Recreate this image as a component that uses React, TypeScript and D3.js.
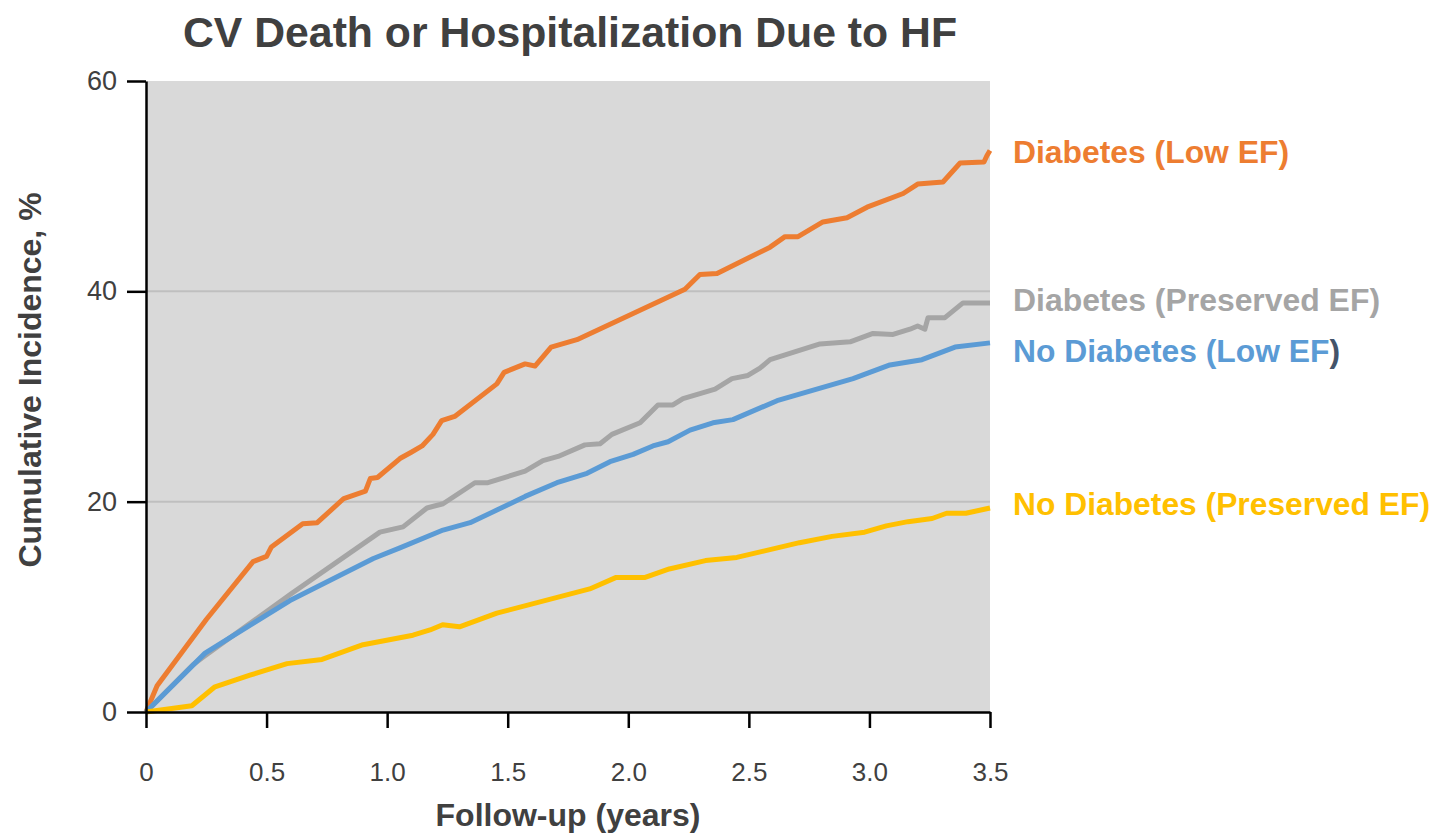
import { useEffect, useRef } from "react";
import * as d3 from "d3";

// follow-up time (years) and cumulative incidence (%)
const diabetesLowEF: [number, number][] = [
  [0, 0], [0.046, 2.5], [0.25, 8.8], [0.444, 14.3], [0.5, 14.8], [0.52, 15.7],
  [0.65, 17.9], [0.71, 18.0], [0.82, 20.3], [0.91, 21.0], [0.93, 22.2], [0.96, 22.3],
  [1.053, 24.1], [1.1, 24.7], [1.145, 25.3], [1.19, 26.4], [1.226, 27.7], [1.28, 28.1],
  [1.455, 31.2], [1.485, 32.3], [1.572, 33.1], [1.613, 32.9], [1.68, 34.7], [1.787, 35.4],
  [2.235, 40.2], [2.297, 41.6], [2.368, 41.7], [2.588, 44.2], [2.65, 45.2], [2.704, 45.2],
  [2.807, 46.6], [2.907, 47.0], [2.99, 48.0], [3.14, 49.3], [3.2, 50.2], [3.305, 50.4],
  [3.376, 52.2], [3.475, 52.3], [3.487, 52.9], [3.5, 53.4]
];

const diabetesPreservedEF: [number, number][] = [
  [0, 0], [0.195, 4.5], [0.236, 5.2], [0.605, 11.3], [0.97, 17.1], [1.066, 17.6],
  [1.165, 19.4], [1.232, 19.8], [1.364, 21.8], [1.418, 21.8], [1.572, 22.9], [1.646, 23.9],
  [1.709, 24.3], [1.82, 25.4], [1.883, 25.5], [1.932, 26.4], [2.049, 27.5], [2.123, 29.2],
  [2.185, 29.2], [2.227, 29.8], [2.36, 30.7], [2.43, 31.7], [2.496, 32.0], [2.546, 32.7],
  [2.588, 33.5], [2.795, 35.0], [2.92, 35.2], [3.015, 36.0], [3.098, 35.9], [3.168, 36.4],
  [3.2, 36.7], [3.23, 36.4], [3.243, 37.5], [3.313, 37.5], [3.388, 38.9], [3.5, 38.9]
];

const noDiabetesLowEF: [number, number][] = [
  [0, 0], [0.245, 5.6], [0.597, 10.6], [0.943, 14.6], [1.053, 15.6], [1.232, 17.3],
  [1.344, 18.0], [1.455, 19.2], [1.572, 20.5], [1.704, 21.8], [1.829, 22.7], [1.924, 23.8],
  [2.02, 24.5], [2.102, 25.3], [2.165, 25.7], [2.256, 26.8], [2.351, 27.5], [2.434, 27.8],
  [2.617, 29.6], [2.932, 31.7], [3.085, 33.0], [3.218, 33.5], [3.355, 34.7], [3.5, 35.1]
];

const noDiabetesPreservedEF: [number, number][] = [
  [0, 0], [0.19, 0.6], [0.286, 2.4], [0.431, 3.5], [0.585, 4.6], [0.73, 5.0],
  [0.9, 6.4], [1.107, 7.3], [1.178, 7.8], [1.23, 8.3], [1.3, 8.1], [1.455, 9.4],
  [1.84, 11.7], [1.95, 12.8], [2.07, 12.8], [2.17, 13.6], [2.32, 14.4], [2.45, 14.7],
  [2.71, 16.1], [2.845, 16.7], [2.98, 17.1], [3.07, 17.7], [3.16, 18.1], [3.26, 18.4],
  [3.32, 18.9], [3.4, 18.9], [3.5, 19.4]
];

const xTicks = [0, 0.5, 1.0, 1.5, 2.0, 2.5, 3.0, 3.5];
const xTickLabels = ["0", "0.5", "1.0", "1.5", "2.0", "2.5", "3.0", "3.5"];
const yTicks = [0, 20, 40, 60];

const seriesNames = [
  "Diabetes (Low EF)",
  "Diabetes (Preserved EF)",
  "No Diabetes (Low EF)",
  "No Diabetes (Preserved EF)"
];
const seriesData = [diabetesLowEF, diabetesPreservedEF, noDiabetesLowEF, noDiabetesPreservedEF];
const seriesColors = ["#ED7D31", "#A5A5A5", "#5B9BD5", "#FFC000"];

const FONT = "'Liberation Sans', Arial, Helvetica, sans-serif";
const TEXT = "#404040";

function Chart() {
  const ref = useRef<SVGSVGElement>(null);

  useEffect(() => {
    const margin = { top: 81, left: 146, right: 445, bottom: 122 };
    const width = 1435;
    const height = 834;

    const svg = d3.select(ref.current);
    svg.selectAll("*").remove();

    const xScale = d3.scaleLinear()
      .domain([0, 3.5])
      .range([margin.left, width - margin.right]);
    const yScale = d3.scaleLinear()
      .domain([0, 60])
      .range([height - margin.bottom, margin.top]);

    // plot background
    svg.append("rect")
      .attr("x", xScale(0))
      .attr("y", yScale(60))
      .attr("width", xScale(3.5) - xScale(0))
      .attr("height", yScale(0) - yScale(60))
      .attr("fill", "#D9D9D9");

    // gridlines
    svg.selectAll(".grid")
      .data([20, 40])
      .join("line")
      .attr("class", "grid")
      .attr("x1", xScale(0))
      .attr("x2", xScale(3.5))
      .attr("y1", d => yScale(d))
      .attr("y2", d => yScale(d))
      .attr("stroke", "#BFBFBF")
      .attr("stroke-width", 2);

    const line = d3.line<[number, number]>()
      .x(d => xScale(d[0]))
      .y(d => yScale(d[1]));

    svg.selectAll(".series")
      .data(seriesData)
      .join("path")
      .attr("class", "series")
      .attr("d", d => line(d))
      .attr("fill", "none")
      .attr("stroke", (d, i) => seriesColors[i])
      .attr("stroke-width", 5)
      .attr("stroke-linejoin", "round");

    // x axis
    const xAxis = svg.append("g")
      .attr("transform", `translate(0, ${yScale(0)})`)
      .call(d3.axisBottom(xScale)
        .tickValues(xTicks)
        .tickSize(16)
        .tickSizeOuter(0)
        .tickPadding(35)
        .tickFormat((d, i) => xTickLabels[i]));
    xAxis.select(".domain").attr("stroke", "#000").attr("stroke-width", 2.5);
    xAxis.selectAll(".tick line").attr("stroke", "#000").attr("stroke-width", 2.5);
    xAxis.selectAll(".tick text")
      .attr("fill", TEXT)
      .attr("font-family", FONT)
      .attr("font-size", 26);

    // y axis
    const yAxis = svg.append("g")
      .attr("transform", `translate(${xScale(0)}, 0)`)
      .call(d3.axisLeft(yScale)
        .tickValues(yTicks)
        .tickSize(19)
        .tickSizeOuter(0)
        .tickPadding(10));
    yAxis.select(".domain").attr("stroke", "#000").attr("stroke-width", 2.5);
    yAxis.selectAll(".tick line").attr("stroke", "#000").attr("stroke-width", 2.5);
    yAxis.selectAll(".tick text")
      .attr("fill", TEXT)
      .attr("font-family", FONT)
      .attr("font-size", 27);

    // title
    svg.append("text")
      .attr("x", 570)
      .attr("y", 47)
      .attr("text-anchor", "middle")
      .attr("font-family", FONT)
      .attr("font-weight", "bold")
      .attr("font-size", 42)
      .attr("fill", TEXT)
      .attr("textLength", 774)
      .attr("lengthAdjust", "spacingAndGlyphs")
      .text("CV Death or Hospitalization Due to HF");

    // axis titles
    svg.append("text")
      .attr("x", 568)
      .attr("y", 826)
      .attr("text-anchor", "middle")
      .attr("font-family", FONT)
      .attr("font-weight", "bold")
      .attr("font-size", 32)
      .attr("fill", TEXT)
      .text("Follow-up (years)");

    svg.append("text")
      .attr("transform", "translate(41, 380) rotate(-90)")
      .attr("text-anchor", "middle")
      .attr("font-family", FONT)
      .attr("font-weight", "bold")
      .attr("font-size", 32)
      .attr("fill", TEXT)
      .text("Cumulative Incidence, %");

    // series labels to the right of the plot
    const labelY = [163, 311, 362, 515];
    const labelW = [276, 367, 327, 417];
    seriesNames.forEach((name, i) => {
      const t = svg.append("text")
        .attr("x", 1013)
        .attr("y", labelY[i])
        .attr("font-family", FONT)
        .attr("font-weight", "bold")
        .attr("font-size", 32)
        .attr("fill", seriesColors[i])
        .attr("textLength", labelW[i])
        .attr("lengthAdjust", "spacingAndGlyphs");
      if (i === 2) {
        t.append("tspan").text(name.slice(0, -1));
        t.append("tspan").attr("fill", "#44546A").text(")");
      } else {
        t.text(name);
      }
    });
  }, []);

  return (
    <svg
      ref={ref}
      width={1435}
      height={834}
      style={{ position: "absolute", left: 0, top: 0, background: "#fff" }}
    />
  );
}

export default function App() {
  return <Chart />;
}
